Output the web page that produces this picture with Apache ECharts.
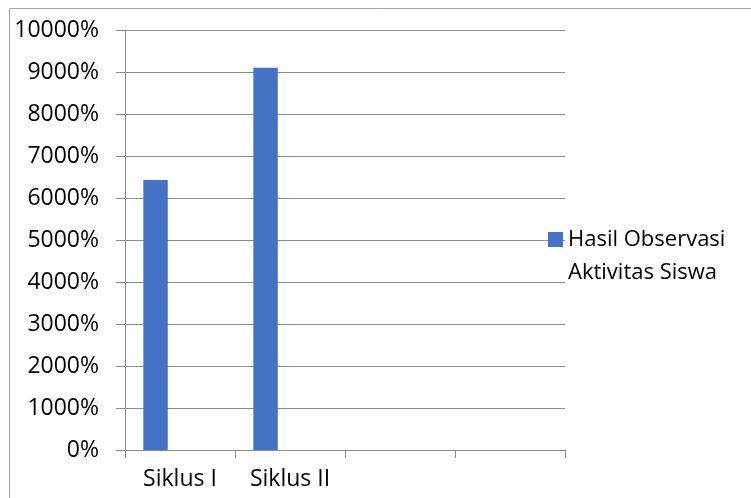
<!DOCTYPE html>
<html>
<head>
<meta charset="utf-8">
<script src="https://cdn.jsdelivr.net/npm/echarts@6/dist/echarts.min.js"></script>
<style>
  html, body { margin: 0; padding: 0; background: #ffffff; }
  #chart { width: 751px; height: 498px; }
</style>
</head>
<body>
<div id="chart"></div>
<script>
// Category slots on the x axis (the last two are empty slots)
const categories = ['Siklus I', 'Siklus II', '', ''];
// Observation results per cycle, in percent
const hasilObservasi = [6430, 9100, null, null];
const seriesName = 'Hasil Observasi Aktivitas Siswa';
const yTicks = { min: 0, max: 10000, step: 1000 };

const FONT = '"Open Sans", "Liberation Sans", sans-serif';
const GRID_COLOR = '#8c8c8c';

const chart = echarts.init(document.getElementById('chart'), null, { renderer: 'canvas' });

const emptySlot = categories.map(() => null);

chart.setOption({
  animation: false,
  backgroundColor: '#ffffff',
  textStyle: { fontFamily: FONT },
  grid: { left: 125, right: 186, top: 30, bottom: 48, containLabel: false },
  graphic: [{
    type: 'rect',
    shape: { x: 9.5, y: 8.5, width: 800, height: 600 },
    style: { fill: 'none', stroke: '#a6a6a6', lineWidth: 1 },
    silent: true,
    z: -10
  }],
  legend: {
    data: [seriesName],
    orient: 'vertical',
    left: 548,
    top: 190,
    padding: 0,
    itemWidth: 15,
    itemHeight: 15,
    icon: 'rect',
    // blank first line keeps the marker level with the first text line
    formatter: () => ' \nHasil Observasi\nAktivitas Siswa',
    textStyle: {
      fontFamily: FONT,
      fontSize: 22,
      color: '#000000',
      lineHeight: 33
    }
  },
  xAxis: {
    type: 'category',
    data: categories,
    boundaryGap: true,
    axisLine: { lineStyle: { color: GRID_COLOR, width: 1 } },
    axisTick: { show: true, length: 8, alignWithLabel: false, lineStyle: { color: GRID_COLOR } },
    axisLabel: { fontFamily: FONT, fontSize: 23, color: '#000000', margin: 18, interval: 0 },
    splitLine: { show: false }
  },
  yAxis: {
    type: 'value',
    min: yTicks.min,
    max: yTicks.max,
    interval: yTicks.step,
    axisLine: { show: true, lineStyle: { color: GRID_COLOR, width: 1 } },
    axisTick: { show: true, length: 9, lineStyle: { color: GRID_COLOR } },
    axisLabel: {
      fontFamily: FONT, fontSize: 23, color: '#000000', margin: 26,
      formatter: (v) => v + '%'
    },
    splitLine: { show: true, lineStyle: { color: GRID_COLOR, width: 1 } }
  },
  series: [
    {
      name: seriesName,
      type: 'bar',
      data: hasilObservasi,
      barGap: '0%',
      barCategoryGap: '33.33%',
      itemStyle: { color: '#4472C4' }
    },
    { name: 'slot2', type: 'bar', data: emptySlot, barGap: '0%', barCategoryGap: '33.33%' },
    { name: 'slot3', type: 'bar', data: emptySlot, barGap: '0%', barCategoryGap: '33.33%' }
  ]
});
</script>
</body>
</html>
